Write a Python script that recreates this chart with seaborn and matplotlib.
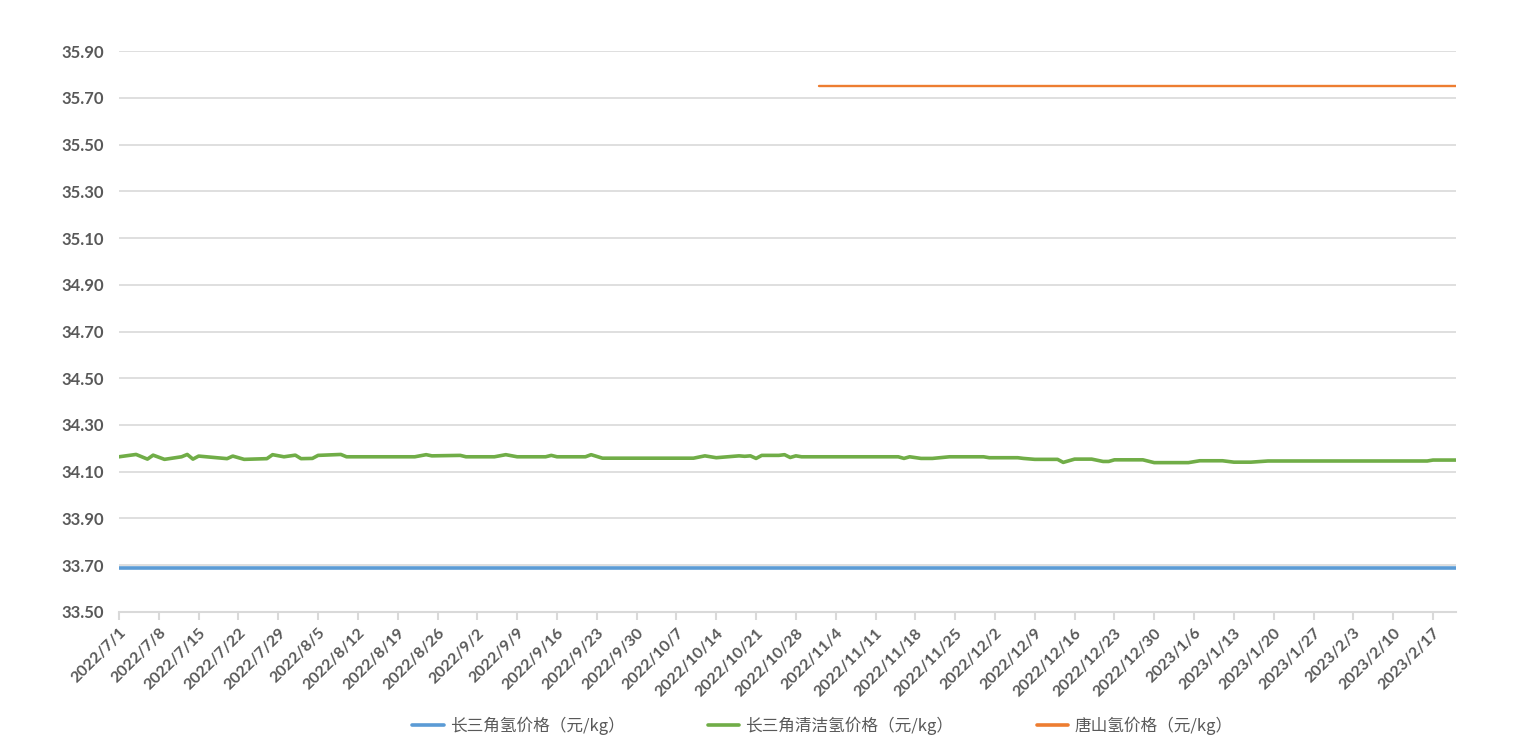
import numpy as np
import pandas as pd
import matplotlib
matplotlib.use("Agg")
import matplotlib.pyplot as plt
import seaborn as sns

# ---------------- data ----------------
series_names = ["长三角氢价格（元/kg）", "长三角清洁氢价格（元/kg）", "唐山氢价格（元/kg）"]
series_colors = ["#5B9BD5", "#70AD47", "#ED7D31"]

blue_dates = ["2022-07-01", "2023-02-21"]
blue_values = [33.69, 33.69]

green_dates = [
    "2022-07-01", "2022-07-04", "2022-07-06", "2022-07-07", "2022-07-09", "2022-07-12",
    "2022-07-13", "2022-07-14", "2022-07-15", "2022-07-20", "2022-07-21", "2022-07-23",
    "2022-07-27", "2022-07-28", "2022-07-30", "2022-08-01", "2022-08-02", "2022-08-04",
    "2022-08-05", "2022-08-09", "2022-08-10", "2022-08-22", "2022-08-24", "2022-08-25",
    "2022-08-30", "2022-08-31", "2022-09-05", "2022-09-07", "2022-09-09", "2022-09-14",
    "2022-09-15", "2022-09-16", "2022-09-21", "2022-09-22", "2022-09-24", "2022-10-10",
    "2022-10-12", "2022-10-14", "2022-10-18", "2022-10-19", "2022-10-20", "2022-10-21",
    "2022-10-22", "2022-10-25", "2022-10-26", "2022-10-27", "2022-10-28", "2022-10-29",
    "2022-11-15", "2022-11-16", "2022-11-17", "2022-11-19", "2022-11-21", "2022-11-24",
    "2022-11-30", "2022-12-01", "2022-12-06", "2022-12-07", "2022-12-09", "2022-12-13",
    "2022-12-14", "2022-12-16", "2022-12-19", "2022-12-21", "2022-12-22", "2022-12-23",
    "2022-12-28", "2022-12-30", "2023-01-05", "2023-01-07", "2023-01-11", "2023-01-13",
    "2023-01-16", "2023-01-19", "2023-02-16", "2023-02-17", "2023-02-21",
]
green_values = [
    34.164, 34.174, 34.154, 34.171, 34.153, 34.164,
    34.174, 34.154, 34.167, 34.156, 34.167, 34.153,
    34.156, 34.173, 34.164, 34.171, 34.156, 34.157,
    34.170, 34.174, 34.164, 34.164, 34.173, 34.168,
    34.170, 34.164, 34.164, 34.173, 34.164, 34.164,
    34.170, 34.164, 34.164, 34.173, 34.158, 34.158,
    34.168, 34.160, 34.168, 34.166, 34.168, 34.157,
    34.170, 34.170, 34.173, 34.161, 34.168, 34.164,
    34.164, 34.157, 34.164, 34.157, 34.157, 34.164,
    34.164, 34.160, 34.160, 34.157, 34.153, 34.153,
    34.140, 34.154, 34.154, 34.144, 34.144, 34.151,
    34.151, 34.139, 34.139, 34.147, 34.147, 34.141,
    34.141, 34.146, 34.146, 34.150, 34.150,
]

orange_dates = ["2022-11-01", "2023-02-21"]
orange_values = [35.75, 35.75]

y_ticks = [33.50, 33.70, 33.90, 34.10, 34.30, 34.50, 34.70, 34.90, 35.10, 35.30, 35.50, 35.70, 35.90]
x_tick_dates = pd.date_range("2022-07-01", "2023-02-17", freq="7D")
x_start, x_end = "2022-07-01", "2023-02-21"

# ---------------- frame ----------------
frames = []
for name, d, v in zip(series_names,
                      [blue_dates, green_dates, orange_dates],
                      [blue_values, green_values, orange_values]):
    frames.append(pd.DataFrame({"date": pd.to_datetime(d), "value": v, "series": name}))
df = pd.concat(frames, ignore_index=True)

# ---------------- plot ----------------
sns.set_theme(style="white")
plt.rcParams["font.family"] = ["Lato", "Noto Sans CJK SC", "DejaVu Sans"]

fig = plt.figure(figsize=(15.14, 7.56), dpi=100)
ax = fig.add_axes([0.0786, 0.1905, 0.9615 - 0.0786, 0.9325 - 0.1905])

widths = {series_names[0]: 2.6, series_names[1]: 2.6, series_names[2]: 1.7}
for name, col in zip(series_names, series_colors):
    sub = df[df["series"] == name]
    sns.lineplot(data=sub, x="date", y="value", color=col, lw=widths[name],
                 ax=ax, label=name, estimator=None, sort=True)

ax.set_xlim(pd.Timestamp(x_start), pd.Timestamp(x_end))
ax.set_ylim(33.5, 35.9)
ax.set_yticks(y_ticks)
ax.set_yticklabels([f"{t:.2f}" for t in y_ticks])
ax.set_xticks(x_tick_dates)
ax.set_xticklabels([f"{d.year}/{d.month}/{d.day}" for d in x_tick_dates],
                   rotation=45, ha="right", rotation_mode="anchor")

grid_col = "#D9D9D9"
ax.grid(axis="y", color=grid_col, lw=1.2)
ax.set_axisbelow(True)
for s in ["top", "right", "left"]:
    ax.spines[s].set_visible(False)
ax.spines["bottom"].set_color(grid_col)
ax.spines["bottom"].set_linewidth(1.5)

ax.tick_params(axis="y", length=0, pad=11, labelsize=12, labelcolor="#595959")
ax.tick_params(axis="x", direction="out", length=6, width=1.5, color=grid_col,
               pad=4, labelsize=11.5, labelcolor="#595959", bottom=True)
for lab in ax.get_xticklabels() + ax.get_yticklabels():
    lab.set_fontweight("bold")

ax.set_xlabel("")
ax.set_ylabel("")

leg = ax.legend(loc="upper center", bbox_to_anchor=(0.526, -0.16), ncol=3, frameon=False,
                handlelength=1.9, columnspacing=5.0, handletextpad=0.35,
                prop={"family": ["Noto Sans CJK SC", "DejaVu Sans"], "size": 12})
for t in leg.get_texts():
    t.set_color("#595959")
for h in leg.get_lines():
    h.set_linewidth(2.6)

fig.savefig("out.png", dpi=100, facecolor="white")
